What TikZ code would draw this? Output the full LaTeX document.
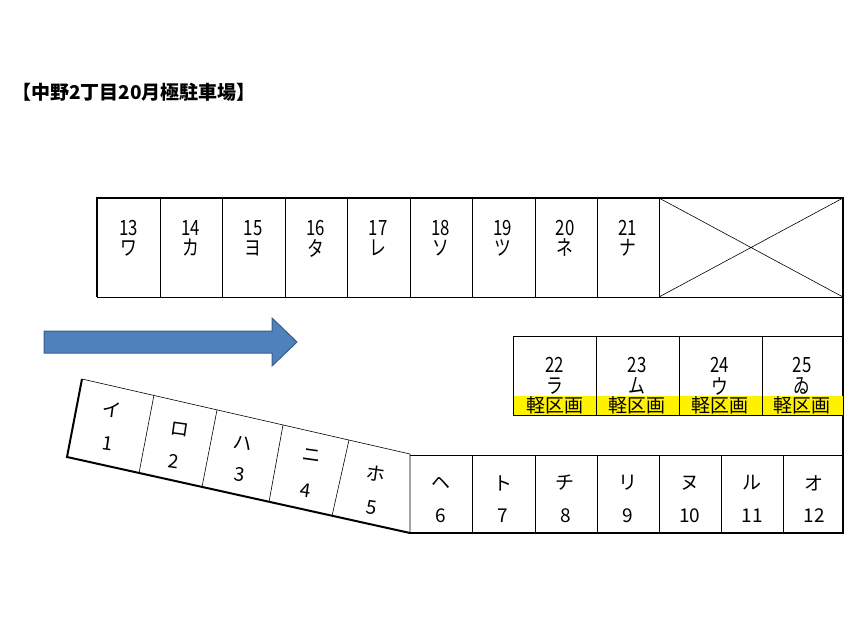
\documentclass[tikz,border=0pt]{standalone}
\usepackage{fontspec}
\setmainfont{Noto Sans CJK JP}
\definecolor{arrowblue}{HTML}{4F81BD}
\definecolor{arrowedge}{HTML}{385D8A}
\begin{document}
\begin{tikzpicture}[x=1pt,y=-1pt,
  thin line/.style={draw=black,line width=0.6pt},
  thick line/.style={draw=black,line width=2pt},
  lab/.style={inner sep=0pt,font=\fontsize{19}{19}\selectfont},
  tlab/.style={inner sep=0pt,font=\fontsize{21}{21}\selectfont,xscale=0.8}]
\useasboundingbox (0,0) rectangle (860,621);
\node[anchor=west,inner sep=0pt,font=\fontsize{19}{19}\selectfont\bfseries] (title) at (12,92) {【中野2丁目20月極駐車場】};
% top row
\foreach \x in {160,222,285,347,410,472,535,597,659} \draw[thin line] (\x,198) -- (\x,297);
\draw[thin line] (659,198) -- (843,297) (659,297) -- (843,198);
\draw[thin line] (97,297) -- (843,297);
\draw[thick line] (97,297) -- (97,198) -- (843,198) -- (843,533) -- (410,533);
\foreach \n/\k [count=\i from 0] in {13/ワ,14/カ,15/ヨ,16/タ,17/レ,18/ソ,19/ツ,20/ネ,21/ナ}{
  \node[tlab] (tn\n) at ({128.5+62.4*\i},228) {\n};
  \node[tlab] (tk\n) at ({128.5+62.4*\i},248) {\k};}
% middle row
\fill[yellow] (513,396) rectangle (843,415);
\draw[thin line] (513,415) -- (513,336) -- (843,336);
\draw[thin line] (513,415) -- (843,415);
\foreach \x in {596,679,762} \draw[thin line] (\x,336) -- (\x,415);
\foreach \n/\k [count=\i from 0] in {22/ラ,23/ム,24/ウ,25/ゐ}{
  \node[tlab] (mn\n) at ({554.5+82.5*\i},365) {\n};
  \node[tlab] (mk\n) at ({554.5+82.5*\i},386) {\k};
  \node[lab] (y\n) at ({554.5+82.5*\i},405) {軽区画};}
% bottom row
\draw[thin line] (410,455) -- (843,455);
\foreach \x in {472,535,597,659,721,783} \draw[thin line] (\x,455) -- (\x,533);
\foreach \n/\k [count=\i from 0] in {6/ヘ,7/ト,8/チ,9/リ,10/ヌ,11/ル,12/オ}{
  \node[lab] (bk\n) at ({441+62.2*\i},483) {\k};
  \node[lab] (bn\n) at ({441+62.2*\i},516) {\n};}
% slanted part
\draw[thin line] (82,379) -- (410,454) -- (410,533);
\draw[thick line] (82,379) -- (67,457) -- (410,533);
\draw[thin line] (154,395) -- (139,473) (217,410) -- (202,487) (283,425) -- (269,502) (349,440) -- (332,516);
\foreach \n/\k/\a/\b/\c/\d in {1/イ/112/410/108/444,2/ロ/180/429/174/461,3/ハ/243/443/240/475,4/ニ/312/456/306/491,5/ホ/376/474/372/508}{
  \node[lab,rotate=-8] (sk\n) at (\a,\b) {\k};
  \node[lab,rotate=-8] (sn\n) at (\c,\d) {\n};}
% arrow
\draw[draw=arrowedge,line width=1pt,fill=arrowblue] (44,331) -- (272,331) -- (272,318) -- (297,342) -- (272,366) -- (272,353) -- (44,353) -- cycle;
\end{tikzpicture}
\end{document}
